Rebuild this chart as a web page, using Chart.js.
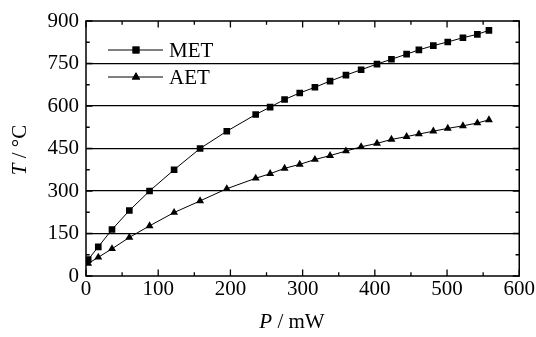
<!DOCTYPE html>
<html><head><meta charset="utf-8">
<script src="https://cdn.jsdelivr.net/npm/chart.js@4/dist/chart.umd.min.js"></script>
<style>html,body{margin:0;padding:0;background:#fff}#wrap{width:536px;height:337px;position:relative}</style>
</head><body><div id="wrap"><canvas id="c"></canvas></div>
<script>
const powerMW = [3,17,36,60,88,122,158,195,235,255,275,296,317,338,360,381,403,423,444,461,481,501,522,542,558];
const metTemp = [58,103,164,231,300,375,450,511,570,596,623,646,666,688,709,728,748,765,783,798,813,826,841,853,867];
const aetTemp = [44,66,96,136,177,224,265,308,345,361,380,394,411,425,441,456,468,482,492,501,511,521,530,540,551];
const seriesNames = ['MET','AET'];
const xTitleParts = [['P', true], [' / mW', false]];
const yTitleParts = [['T', true], [' / °C', false]];
const xMin = 0, xMax = 600, xStep = 100, xMinor = 50;
const yMin = 0, yMax = 900, yStep = 150, yMinor = 75;

const FONT = '"Liberation Serif", "Times New Roman", serif';

function drawParts(ctx, parts, size, cx, cy) {
  let widths = parts.map(p => { ctx.font = (p[1] ? 'italic ' : '') + size + 'px ' + FONT; return ctx.measureText(p[0]).width; });
  let total = widths.reduce((a, b) => a + b, 0);
  let x = cx - total / 2;
  ctx.textBaseline = 'middle';
  ctx.textAlign = 'left';
  parts.forEach((p, i) => { ctx.font = (p[1] ? 'italic ' : '') + size + 'px ' + FONT; ctx.fillText(p[0], x, cy); x += widths[i]; });
}

const framePlugin = {
  id: 'frame',
  afterDraw(chart) {
    const ctx = chart.ctx, a = chart.chartArea;
    const xs = chart.scales.x, ys = chart.scales.y;
    ctx.save();
    ctx.strokeStyle = '#000'; ctx.fillStyle = '#000';
    ctx.lineWidth = 1.5;
    ctx.strokeRect(a.left, a.top, a.right - a.left, a.bottom - a.top);
    ctx.lineWidth = 1.3;
    ctx.beginPath();
    for (let v = xMin; v <= xMax; v += xMinor) {
      const px = xs.getPixelForValue(v);
      const len = (v % xStep === 0) ? 6.5 : 3.7;
      ctx.moveTo(px, a.bottom); ctx.lineTo(px, a.bottom - len);
      ctx.moveTo(px, a.top); ctx.lineTo(px, a.top + len);
    }
    for (let v = yMin; v <= yMax; v += yMinor) {
      const py = ys.getPixelForValue(v);
      const len = (v % yStep === 0) ? 6.5 : 3.7;
      ctx.moveTo(a.left, py); ctx.lineTo(a.left + len, py);
      ctx.moveTo(a.right, py); ctx.lineTo(a.right - len, py);
    }
    ctx.stroke();
    // legend
    const legendRows = [[seriesNames[0], 'rect', 50], [seriesNames[1], 'triangle', 77]];
    legendRows.forEach(r => {
      ctx.lineWidth = 1;
      ctx.beginPath(); ctx.moveTo(108, r[2]); ctx.lineTo(163, r[2]); ctx.stroke();
      Chart.helpers.drawPoint(ctx, {pointStyle: r[1], radius: r[1] === 'rect' ? 4.9 : 4.8, rotation: 0, borderWidth: 0}, 136, r[2]);
      ctx.fill();
      ctx.font = '21px ' + FONT; ctx.textAlign = 'left'; ctx.textBaseline = 'middle';
      ctx.fillText(r[0], 169, r[2] + 1);
    });
    // axis titles
    drawParts(ctx, xTitleParts, 21, 292, 322);
    ctx.translate(20, 150); ctx.rotate(-Math.PI / 2);
    drawParts(ctx, yTitleParts, 21, 0, 0);
    ctx.restore();
  }
};

new Chart(document.getElementById('c'), {
  type: 'line',
  data: {
    datasets: [
      { label: seriesNames[0], data: powerMW.map((p, i) => ({x: p, y: metTemp[i]})), borderColor: '#000', backgroundColor: '#000', borderWidth: 1, pointStyle: 'rect', pointRadius: 4.7, pointBorderWidth: 0, pointBackgroundColor: '#000', tension: 0 },
      { label: seriesNames[1], data: powerMW.map((p, i) => ({x: p, y: aetTemp[i]})), borderColor: '#000', backgroundColor: '#000', borderWidth: 1, pointStyle: 'triangle', pointRadius: 4.6, pointBorderWidth: 0, pointBackgroundColor: '#000', tension: 0 }
    ]
  },
  options: {
    responsive: true, maintainAspectRatio: false, animation: false,
    devicePixelRatio: 1,
    layout: { padding: { left: 0, top: 21, right: 16.5, bottom: 0 } },
    plugins: { legend: { display: false }, tooltip: { enabled: false } },
    scales: {
      x: {
        type: 'linear', min: xMin, max: xMax,
        ticks: { stepSize: xStep, color: '#000', font: { family: FONT, size: 21 }, padding: 1, maxRotation: 0 },
        grid: { display: false, drawTicks: false },
        border: { display: false },
        afterFit(s) { s.height = 61; }
      },
      y: {
        type: 'linear', min: yMin, max: yMax,
        ticks: { stepSize: yStep, color: '#000', font: { family: FONT, size: 21 }, padding: 7 },
        grid: { drawTicks: false, lineWidth: 1.3, color: c => (c.tick && (c.tick.value === yMin || c.tick.value === yMax)) ? 'rgba(0,0,0,0)' : '#000' },
        border: { display: false },
        afterFit(s) { s.width = 86; }
      }
    }
  },
  plugins: [framePlugin]
});
</script></body></html>
